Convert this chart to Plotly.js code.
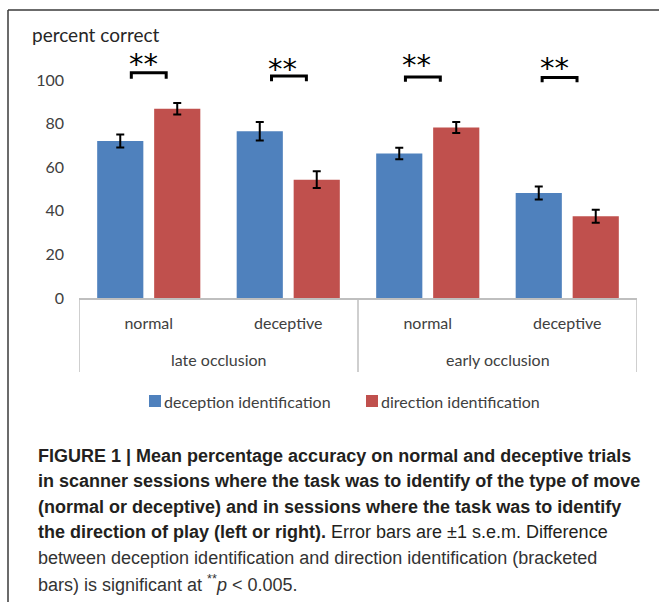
<!DOCTYPE html>
<html>
<head>
<meta charset="utf-8">
<script src="https://cdn.plot.ly/plotly-3.0.1.min.js"></script>
<style>
  html, body { margin: 0; padding: 0; background: #ffffff; }
  #chart { width: 659px; height: 602px; }
</style>
</head>
<body>
<div id="chart"></div>
<script>
// ---- data ----
const conditions = ["normal", "deceptive", "normal", "deceptive"];
const occlusion = ["late occlusion", "late occlusion", "early occlusion", "early occlusion"];
const seriesNames = ["deception identification", "direction identification"];
const deceptionValues = [72.0, 76.5, 66.3, 48.2];
const deceptionErrors = [3.0, 4.2, 2.6, 3.0];
const directionValues = [86.8, 54.3, 78.2, 37.5];
const directionErrors = [2.6, 3.8, 2.5, 3.0];
const yTickValues = [0, 20, 40, 60, 80, 100];
const significance = ["**", "**", "**", "**"];

// ---- presentation settings ----
const BLUE = "#4F81BD";
const RED = "#C0504D";
const seriesColors = [BLUE, RED];
const AXIS_GREY = "#BFBFBF";
const TEXT_GREY = "#404040";
const CHART_FONT = "Lato, 'Open Sans', sans-serif";
const CAPTION_FONT = "'Liberation Sans', Arial, sans-serif";

const W = 659, H = 602;
const M = { l: 79, r: 22, t: 40, b: 304 };
const plotW = W - M.l - M.r;
const plotH = H - M.t - M.b;
const yMax = 118.35;
const px2paperX = px => (px - M.l) / plotW;
const px2paperY = py => (H - M.b - py) / plotH;

const xIdx = conditions.map((_, i) => i);

// bracket / star placement per category (offsets in category units, heights in data units)
const sigPlacement = [
  { bx: 0.0,    top: 103.3, leg: 100.6, sx: -0.04, sy: 110.6 },
  { bx: 0.005,  top: 101.8, leg: 99.4,  sx: -0.04, sy: 108.4 },
  { bx: -0.035, top: 101.4, leg: 99.2,  sx: -0.08, sy: 110.1 },
  { bx: -0.055, top: 101.2, leg: 99.0,  sx: -0.09, sy: 108.8 }
];
const halfBracket = 0.125;

const traces = [
  {
    type: "bar", name: seriesNames[0], x: xIdx, y: deceptionValues,
    marker: { color: seriesColors[0] }, showlegend: false,
    error_y: { type: "data", array: deceptionErrors, visible: true, color: "#000000", thickness: 2, width: 4 }
  },
  {
    type: "bar", name: seriesNames[1], x: xIdx, y: directionValues,
    marker: { color: seriesColors[1] }, showlegend: false,
    error_y: { type: "data", array: directionErrors, visible: true, color: "#000000", thickness: 2, width: 4 }
  }
];

const shapes = [];
const annotations = [];

// significance brackets and stars
xIdx.forEach((i) => {
  const p = sigPlacement[i];
  const c = i + p.bx;
  shapes.push({
    type: "path", xref: "x", yref: "y",
    path: `M ${c - halfBracket},${p.leg} L ${c - halfBracket},${p.top} L ${c + halfBracket},${p.top} L ${c + halfBracket},${p.leg}`,
    line: { color: "#000000", width: 3 }
  });
  annotations.push({
    xref: "x", yref: "y", x: i + p.sx, y: p.sy, text: significance[i],
    showarrow: false, xanchor: "center", yanchor: "middle", yshift: -7,
    font: { family: "'DejaVu Sans', sans-serif", size: 29, color: "#000000" }
  });
});

// group dividers below the axis
const dividerBottom = px2paperY(372);
const boundaries = [-0.5];
for (let i = 1; i < occlusion.length; i++) {
  if (occlusion[i] !== occlusion[i - 1]) boundaries.push(i - 0.5);
}
boundaries.push(occlusion.length - 0.5);
boundaries.forEach(b => {
  shapes.push({
    type: "line", xref: "x", yref: "paper", x0: b, x1: b, y0: 0, y1: dividerBottom,
    line: { color: AXIS_GREY, width: 1.5 }
  });
});

// group labels
const groups = [];
occlusion.forEach((g, i) => {
  const last = groups[groups.length - 1];
  if (last && last.name === g) { last.idx.push(i); } else { groups.push({ name: g, idx: [i] }); }
});
groups.forEach(g => {
  const mid = g.idx.reduce((a, b) => a + b, 0) / g.idx.length;
  annotations.push({
    xref: "x", yref: "paper", x: mid, y: px2paperY(359), text: g.name,
    showarrow: false, xanchor: "center", yanchor: "middle",
    font: { family: CHART_FONT, size: 16, color: TEXT_GREY }
  });
});

// legend (drawn as key squares + labels)
const legendSquareLeft = [149, 366];
seriesNames.forEach((name, k) => {
  const x0 = legendSquareLeft[k];
  shapes.push({
    type: "rect", xref: "paper", yref: "paper",
    x0: px2paperX(x0), x1: px2paperX(x0 + 12), y0: px2paperY(395), y1: px2paperY(407),
    fillcolor: seriesColors[k], line: { width: 0 }
  });
  annotations.push({
    xref: "paper", yref: "paper", x: px2paperX(x0 + 13), y: px2paperY(401), text: name,
    showarrow: false, xanchor: "left", yanchor: "middle",
    font: { family: CHART_FONT, size: 16, color: TEXT_GREY }
  });
});

// y-axis title at the top-left
annotations.push({
  xref: "paper", yref: "paper", x: px2paperX(30), y: px2paperY(35), text: "percent correct",
  showarrow: false, xanchor: "left", yanchor: "middle",
  font: { family: CHART_FONT, size: 19, color: "#262626" }
});

// caption
const captionLines = [
  "<b>FIGURE 1 | Mean percentage accuracy on normal and deceptive trials</b>",
  "<b>in scanner sessions where the task was to identify of the type of move</b>",
  "<b>(normal or deceptive) and in sessions where the task was to identify</b>",
  "<b>the direction of play (left or right).</b> Error bars are ±1 s.e.m. Difference",
  "between deception identification and direction identification (bracketed",
  "bars) is significant at <sup>**</sup><i>p</i> &lt; 0.005."
];
const captionY = [456, 481, 507, 532, 558, 583];
captionLines.forEach((t, i) => {
  annotations.push({
    xref: "paper", yref: "paper", x: px2paperX(36), y: px2paperY(captionY[i]), text: t,
    showarrow: false, xanchor: "left", yanchor: "middle",
    font: { family: CAPTION_FONT, size: 18, color: i < 4 ? "#231F20" : "#333333" }
  });
});

// figure frame (left and top rules)
shapes.push({
  type: "line", xref: "paper", yref: "paper",
  x0: px2paperX(8), x1: px2paperX(8), y0: px2paperY(10), y1: px2paperY(602),
  line: { color: "#3a3a3a", width: 1.5 }
});
shapes.push({
  type: "line", xref: "paper", yref: "paper",
  x0: px2paperX(8), x1: px2paperX(660), y0: px2paperY(10), y1: px2paperY(10),
  line: { color: "#3a3a3a", width: 1.5 }
});

const layout = {
  width: W, height: H,
  margin: M,
  paper_bgcolor: "#ffffff",
  plot_bgcolor: "#ffffff",
  barmode: "group",
  bargap: 0.183,
  bargroupgap: 0.19,
  showlegend: false,
  xaxis: {
    range: [-0.5, 3.5], tickvals: xIdx, ticktext: conditions,
    showline: true, linecolor: AXIS_GREY, linewidth: 1.5,
    ticks: "", showgrid: false, zeroline: false, fixedrange: true,
    ticklabelstandoff: 10,
    tickfont: { family: CHART_FONT, size: 16, color: TEXT_GREY }
  },
  yaxis: {
    range: [0, yMax], tickvals: yTickValues, ticktext: yTickValues.map(String),
    showline: false, ticks: "", showgrid: false, zeroline: false, fixedrange: true,
    ticklabelstandoff: 14,
    tickfont: { family: CHART_FONT, size: 16, color: TEXT_GREY }
  },
  shapes: shapes,
  annotations: annotations
};

Plotly.newPlot("chart", traces, layout, { displayModeBar: false, staticPlot: true });
</script>
</body>
</html>
